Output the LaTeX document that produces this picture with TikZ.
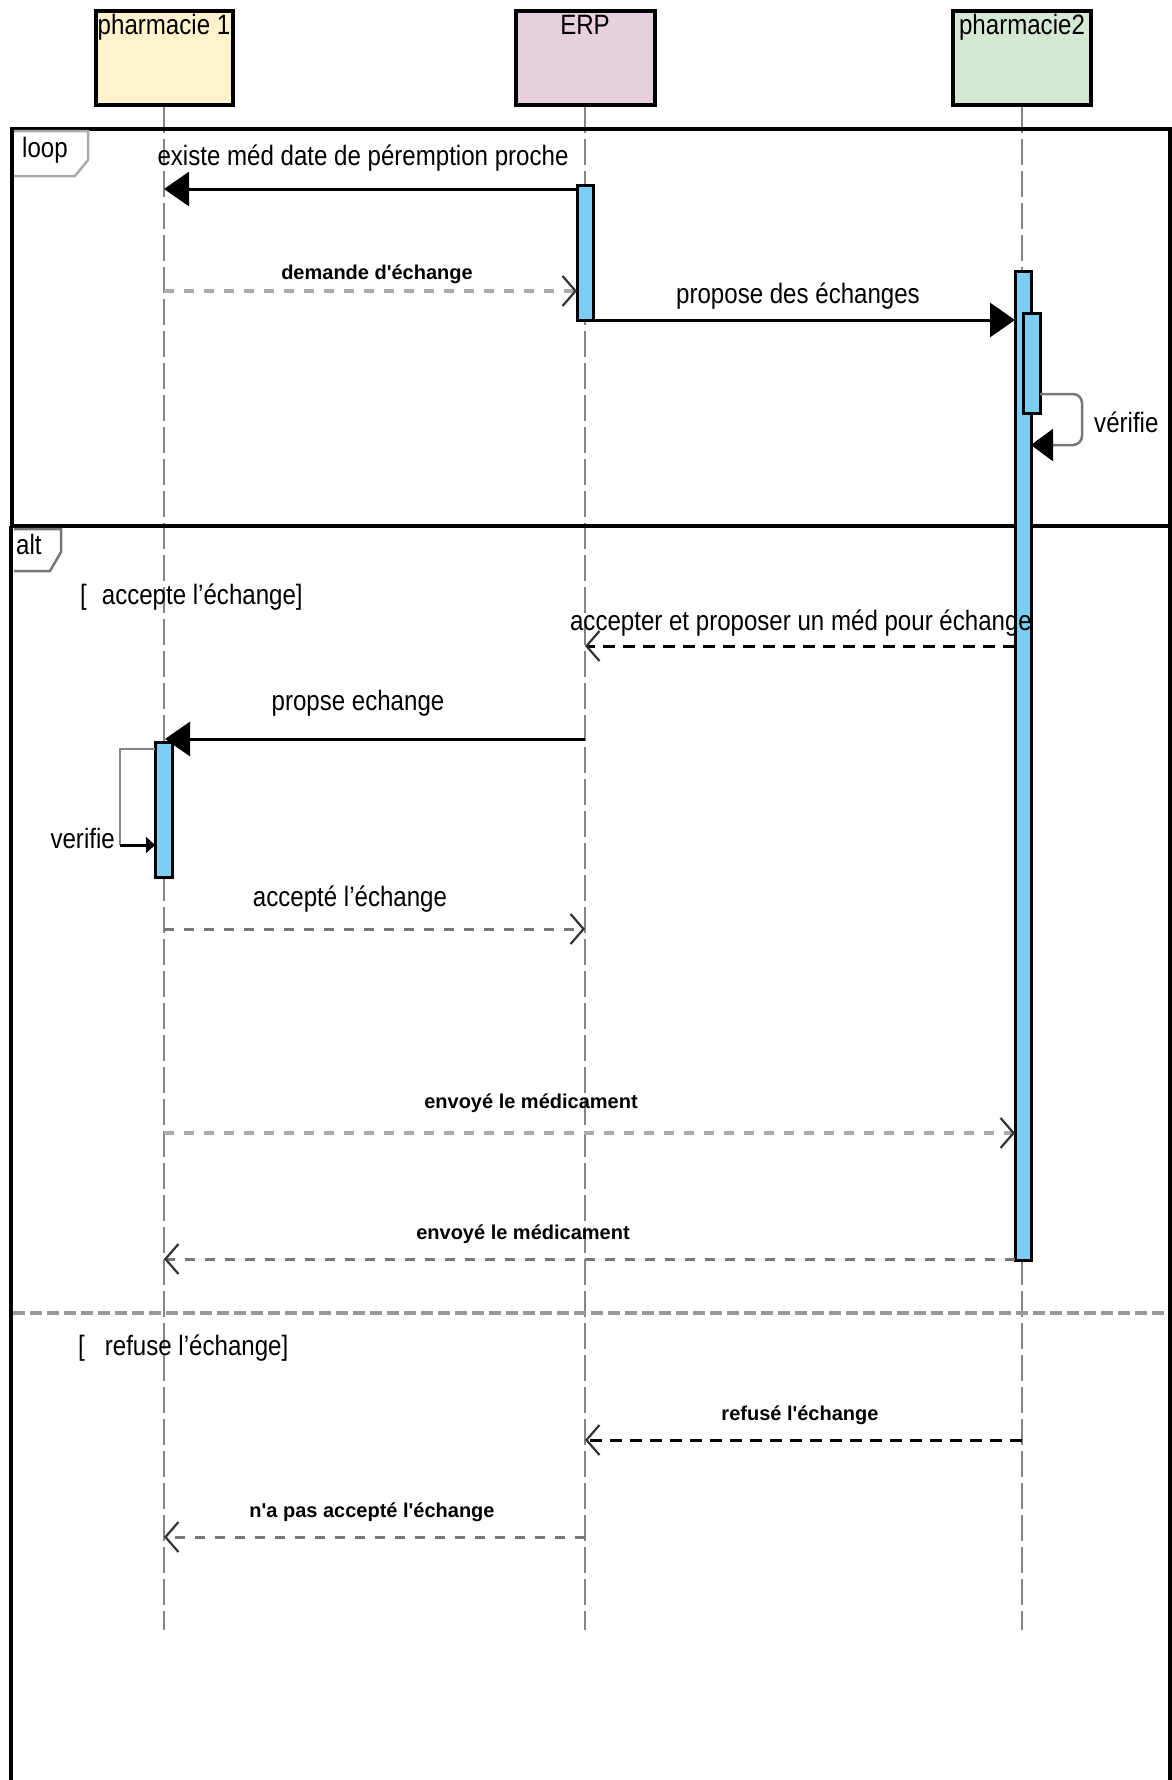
\documentclass[tikz,border=0pt]{standalone}
\usepackage{fontspec}
\setmainfont{Liberation Sans}[FakeStretch=0.86]
\newfontfamily\msgsmall{Liberation Sans}
\usetikzlibrary{arrows.meta}

\definecolor{hdrA}{HTML}{FFF2CC}
\definecolor{hdrB}{HTML}{E6D0DE}
\definecolor{hdrC}{HTML}{D5E8D4}
\definecolor{actfill}{HTML}{7DCEF4}
\definecolor{lifegray}{HTML}{858585}
\definecolor{lightdash}{HTML}{ABABAB}
\definecolor{middash}{HTML}{777777}
\definecolor{sepgray}{HTML}{999999}

\tikzset{
  big/.style={font=\fontsize{28}{30}\selectfont, inner sep=0pt},
  small/.style={font=\msgsmall\bfseries\fontsize{20}{22}\selectfont, inner sep=0pt},
  header/.style={draw, line width=4pt, minimum height=94pt, inner sep=0pt},
  lifeline/.style={draw=lifegray, line width=2.5pt, dash pattern=on 26pt off 6pt},
  actbar/.style={draw, fill=actfill, line width=3pt, inner sep=0pt},
  sync/.style={line width=3pt, -{Triangle[length=25pt,width=34pt]}},
  opentip/.style={-{Straight Barb[length=13pt,width=30pt,line width=2.2pt,color=black!80]}},
  replylight/.style={opentip, draw=lightdash, line width=4pt, dash pattern=on 10pt off 10pt},
  replymid/.style={opentip, draw=middash, line width=3pt, dash pattern=on 10pt off 10pt},
  replyblack/.style={opentip, draw=black, line width=3pt, dash pattern=on 12pt off 8pt},
}

\begin{document}
\begin{tikzpicture}[x=1pt, y=-1pt]
\useasboundingbox (0,0) rectangle (1172,1780);
\clip (0,0) rectangle (1172,1780);

% participants
\node[header, fill=hdrA, minimum width=137pt] (p1) at (164,58) {};
\node[header, fill=hdrB, minimum width=139pt] (erp) at (585,58) {};
\node[header, fill=hdrC, minimum width=138pt] (p2) at (1022,58) {};
\node[big, anchor=base] (p1t) at (164,34) {pharmacie 1};
\node[big, anchor=base] (erpt) at (585,34) {ERP};
\node[big, anchor=base] (p2t) at (1022,34) {pharmacie2};

% lifelines
\coordinate (e1) at (164,1630);
\coordinate (e2) at (585,1630);
\coordinate (e3) at (1022,1630);
\draw[lifeline] (p1.south) -- (e1);
\draw[lifeline] (erp.south) -- (e2);
\draw[lifeline] (p2.south) -- (e3);

% combined fragments
\draw[line width=3.5pt] (12,129) rectangle (1170,526);
\draw[line width=4.5pt] (11,526) -- (11,1800);
\draw[line width=4.5pt] (11,526) -- (1170,526) -- (1170,1800);
\draw[draw=sepgray, line width=4pt, dash pattern=on 12pt off 5pt] (13,1313) -- (1168,1313);

\filldraw[fill=white, draw=lightdash, line width=2.5pt] (14,131) -- (88,131) -- (88,160) -- (75,176) -- (14,176);
\node[big, anchor=base west] (looptag) at (22,157) {loop};
\filldraw[fill=white, draw=middash, line width=2.5pt] (14,529) -- (61,529) -- (61,552) -- (50,571) -- (14,571);
\node[big, anchor=base west] (alttag) at (16,554) {alt};

\node[big, anchor=base west] (g1) at (80,604) {[\hspace{15pt}accepte l'échange]};
\node[big, anchor=base west] (g2) at (78,1355) {[\hspace{20pt}refuse l'échange]};

% activation bars
\node[actbar, minimum width=16pt, minimum height=135pt] (baerp) at (585,252.5) {};
\node[actbar, minimum width=16pt, minimum height=989pt] (bap2) at (1023,765.5) {};
\node[actbar, minimum width=17pt, minimum height=100pt] (bap2b) at (1031.5,363) {};
\node[actbar, minimum width=17pt, minimum height=135pt] (bap1) at (164,809.5) {};

% message end points
\coordinate (m1a) at (577,189);   \coordinate (m1b) at (164,189);
\coordinate (m2a) at (164,291);   \coordinate (m2b) at (577,291);
\coordinate (m3a) at (593,320);   \coordinate (m3b) at (1015,320);
\coordinate (s1a) at (1040,394);  \coordinate (s1b) at (1082,394);
\coordinate (s1c) at (1082,445);  \coordinate (s1e) at (1045,445);
\coordinate (s1d) at (1031,445);
\coordinate (m5a) at (1015,646);  \coordinate (m5b) at (585,646);
\coordinate (m6a) at (585,739);   \coordinate (m6b) at (165,739);
\coordinate (s2a) at (155,749);   \coordinate (s2b) at (120,749);
\coordinate (s2c) at (120,845);   \coordinate (s2d) at (155,845);
\coordinate (m8a) at (164,929);   \coordinate (m8b) at (585,929);
\coordinate (m9a) at (164,1133);  \coordinate (m9b) at (1015,1133);
\coordinate (m10a) at (1015,1259); \coordinate (m10b) at (164,1259);
\coordinate (m11a) at (1022,1440); \coordinate (m11b) at (585,1440);
\coordinate (m12a) at (585,1537); \coordinate (m12b) at (164,1537);

% messages
\draw[sync] (m1a) -- (m1b);
\draw[replylight] (m2a) -- (m2b);
\draw[sync] (m3a) -- (m3b);
\draw[draw=middash, line width=2.5pt, rounded corners=9pt] (s1a) -- (s1b) -- (s1c) -- (s1e);
\draw[line width=2.5pt, -{Triangle[length=22pt,width=32pt]}] (s1e) -- (s1d);
\draw[replyblack] (m5a) -- (m5b);
\draw[sync] (m6a) -- (m6b);
\draw[draw=lifegray, line width=2.5pt] (s2a) -- (s2b) -- (s2c);
\draw[line width=3pt, -{Triangle[length=9pt,width=16pt]}] (s2c) -- (s2d);
\draw[replymid] (m8a) -- (m8b);
\draw[replylight] (m9a) -- (m9b);
\draw[replymid] (m10a) -- (m10b);
\draw[replyblack] (m11a) -- (m11b);
\draw[replymid] (m12a) -- (m12b);

% message labels
\node[big, anchor=base] (t1) at (363,165) {existe méd date de péremption proche};
\node[small, anchor=base] (t2) at (377,279) {demande d'échange};
\node[big, anchor=base] (t3) at (798,303) {propose des échanges};
\node[big, anchor=base west] (t4) at (1094,432) {vérifie};
\node[big, anchor=base] (t5) at (801,630) {accepter et proposer un méd pour échange};
\node[big, anchor=base] (t6) at (358,710) {propse echange};
\node[big, anchor=base east] (t7) at (115,848) {verifie};
\node[big, anchor=base] (t8) at (350,906) {accepté l'échange};
\node[small, anchor=base] (t9) at (531,1108) {envoyé le médicament};
\node[small, anchor=base] (t10) at (523,1239) {envoyé le médicament};
\node[small, anchor=base] (t11) at (800,1420) {refusé l'échange};
\node[small, anchor=base] (t12) at (372,1517) {n'a pas accepté l'échange};
\end{tikzpicture}
\end{document}
